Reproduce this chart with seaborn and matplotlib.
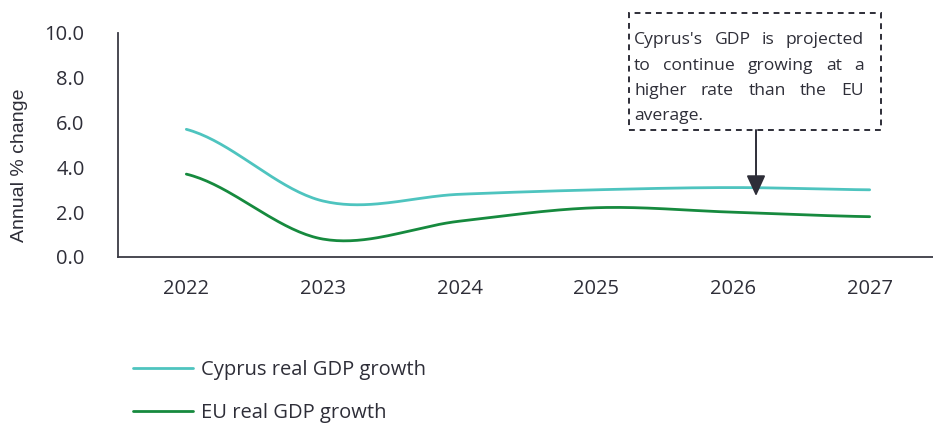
import numpy as np
import pandas as pd
import matplotlib
matplotlib.use("Agg")
import matplotlib.pyplot as plt
from matplotlib.patches import Rectangle
from matplotlib.transforms import IdentityTransform
import seaborn as sns

# ---- data ----
years = ["2022", "2023", "2024", "2025", "2026", "2027"]
cyprus = [5.7, 2.5, 2.8, 3.0, 3.1, 3.0]
eu = [3.7, 0.8, 1.6, 2.2, 2.0, 1.8]
series_names = ["Cyprus real GDP growth", "EU real GDP growth"]
y_ticks = [0.0, 2.0, 4.0, 6.0, 8.0, 10.0]
y_label = "Annual % change"
note = ["Cyprus's GDP is projected", "to continue growing at a",
        "higher rate than the EU", "average."]

TXT = "#2E2E38"
COLORS = ["#4EC4BF", "#168A3E"]


def smooth(vals, n=40):
    """Catmull-Rom smoothing (like spreadsheet 'smoothed line')."""
    v = np.asarray(vals, float)
    p = np.concatenate([[v[0]], v, [v[-1]]])
    xs, ys = [], []
    for i in range(len(v) - 1):
        p0, p1, p2, p3 = p[i], p[i + 1], p[i + 2], p[i + 3]
        t = np.linspace(0, 1, n, endpoint=(i == len(v) - 2))
        y = 0.5 * ((2 * p1) + (-p0 + p2) * t + (2 * p0 - 5 * p1 + 4 * p2 - p3) * t ** 2
                   + (-p0 + 3 * p1 - 3 * p2 + p3) * t ** 3)
        xs.append(i + t)
        ys.append(y)
    return np.concatenate(xs), np.concatenate(ys)


frames = []
for name, vals in zip(series_names, [cyprus, eu]):
    x, y = smooth(vals)
    frames.append(pd.DataFrame({"x": x, "y": y, "series": name}))
df = pd.concat(frames, ignore_index=True)

sns.set_theme(style="white")
plt.rcParams["font.family"] = ["Open Sans", "DejaVu Sans"]
plt.rcParams["text.color"] = TXT

W, H = 933, 424
fig = plt.figure(figsize=(W / 100, H / 100), dpi=100)
ax = fig.add_axes([118 / W, (H - 257) / H, (938 - 118) / W, (257 - 33) / H])

sns.lineplot(data=df, x="x", y="y", hue="series", palette=COLORS, ax=ax,
             linewidth=2.0, sort=False, estimator=None, legend=True)

ax.set_xlim(-0.5, 5.5)
ax.set_ylim(0, 10)
ax.set_xticks(range(len(years)))
ax.set_xticklabels(years)
ax.set_yticks(y_ticks)
ax.set_yticklabels([f"{t:.1f}" for t in y_ticks])
ax.tick_params(axis="both", length=0, labelsize=14.5, colors=TXT)
ax.tick_params(axis="y", pad=24)
ax.tick_params(axis="x", pad=16)
ax.set_xlabel("")
ax.set_ylabel(y_label, fontsize=14, color=TXT,
              fontfamily=["Liberation Sans", "DejaVu Sans"])
ax.yaxis.set_label_coords(-90 / (938 - 118), (257 - 165) / 224)
for s in ["top", "right"]:
    ax.spines[s].set_visible(False)
for s in ["left", "bottom"]:
    ax.spines[s].set_color("#3A3A44")
    ax.spines[s].set_linewidth(1.3)

handles, labels = ax.get_legend_handles_labels()
ax.legend(handles, labels, loc="upper left", bbox_to_anchor=(133 / W, 1 - 360 / H),
          bbox_transform=fig.transFigure, frameon=False, fontsize=14.5,
          handlelength=3.0, handletextpad=0.4, labelspacing=1.12, borderpad=0,
          borderaxespad=0)

# annotation box
box = Rectangle((629, H - 130), 881 - 629, 130 - 13, transform=IdentityTransform(),
                fill=False, edgecolor=TXT, linewidth=1.4, linestyle=(0, (3, 2.5)))
fig.add_artist(box)

fig.canvas.draw()
renderer = fig.canvas.get_renderer()
left, right = 634, 864
baselines = [44, 69.5, 95, 120.5]
fs = 12.6
for li, (line, yb) in enumerate(zip(note, baselines)):
    words = line.split(" ")
    texts = [fig.text(0, 0, w, fontsize=fs, color=TXT, transform=IdentityTransform(),
                      va="baseline", ha="left") for w in words]
    widths = [t.get_window_extent(renderer).width for t in texts]
    last = li == len(note) - 1
    if last or len(words) == 1:
        gap = fs * 0.3 * 100 / 72
    else:
        gap = (right - left - sum(widths)) / (len(words) - 1)
    x = left
    for t, w in zip(texts, widths):
        t.set_position((x, H - yb))
        x += w + gap

ax.annotate("", xy=((756 - 186.3) / 136.67, 2.72), xycoords="data",
            xytext=(756, H - 130), textcoords=IdentityTransform(),
            arrowprops=dict(arrowstyle="-|>,head_length=0.7,head_width=0.32",
                            color=TXT, lw=1.4, mutation_scale=18,
                            shrinkA=0, shrinkB=0))

fig.savefig("out.png", dpi=100)
